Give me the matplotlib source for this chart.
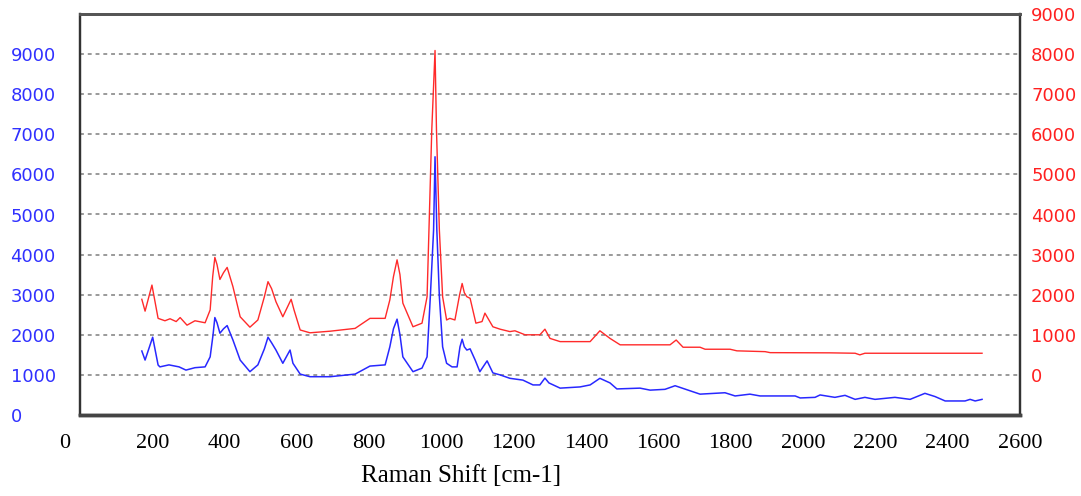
import matplotlib
matplotlib.use("Agg")
from matplotlib import pyplot as plt
from matplotlib import transforms

# Raman spectra
# blue trace, left axis
blue_x = [171, 180, 201, 216, 221, 246, 274, 293, 318, 346, 360, 368, 373, 379, 387,
          397, 407, 423, 443, 470, 492, 510, 520, 530, 542, 561, 581, 589, 609, 636,
          692, 761, 802, 844, 857, 867, 877, 885, 893, 921, 946, 960, 969, 978, 982,
          987, 994, 1003, 1014, 1029, 1043, 1051, 1057, 1063, 1070, 1079, 1093, 1106,
          1126, 1142, 1162, 1189, 1225, 1253, 1272, 1286, 1297, 1328, 1383, 1411,
          1438, 1466, 1485, 1549, 1577, 1618, 1646, 1687, 1715, 1784, 1812, 1853,
          1881, 1978, 1992, 2033, 2047, 2088, 2116, 2144, 2171, 2199, 2254, 2296,
          2337, 2365, 2393, 2448, 2462, 2476, 2495]
blue_y = [1596, 1370, 1940, 1247, 1200, 1250, 1200, 1120, 1180, 1200, 1450, 2000,
          2430, 2300, 2040, 2150, 2230, 1870, 1370, 1080, 1250, 1650, 1940, 1800,
          1620, 1290, 1620, 1290, 1020, 955, 955, 1020, 1220, 1250, 1700, 2150,
          2390, 2000, 1450, 1080, 1170, 1450, 2950, 4610, 6440, 4610, 2950, 1700,
          1290, 1200, 1200, 1700, 1890, 1700, 1620, 1650, 1370, 1080, 1350, 1050,
          1000, 915, 870, 750, 750, 920, 800, 670, 700, 750, 915, 800, 650, 670,
          620, 640, 730, 605, 520, 555, 475, 520, 475, 475, 425, 440, 500, 440, 490,
          390, 440, 390, 440, 390, 540, 460, 350, 350, 390, 350, 390]

# red trace, right axis
red_x = [171, 180, 199, 216, 235, 249, 266, 277, 296, 318, 346, 360, 367, 373, 379,
         387, 397, 407, 423, 443, 470, 492, 510, 520, 530, 542, 561, 584, 592, 609,
         636, 692, 761, 802, 844, 857, 867, 877, 885, 893, 921, 946, 960, 973, 982,
         986, 994, 1003, 1014, 1023, 1037, 1050, 1057, 1063, 1070, 1079, 1095, 1112,
         1120, 1142, 1162, 1189, 1203, 1231, 1272, 1286, 1300, 1328, 1411, 1438,
         1466, 1494, 1632, 1649, 1668, 1715, 1729, 1798, 1817, 1895, 1909, 2075,
         2144, 2157, 2171, 2495]
red_y = [1885, 1590, 2240, 1410, 1350, 1400, 1330, 1430, 1240, 1350, 1300, 1620,
         2450, 2930, 2750, 2380, 2550, 2680, 2200, 1450, 1190, 1370, 1950, 2325,
         2150, 1825, 1450, 1885, 1620, 1120, 1050, 1090, 1160, 1410, 1410, 1870,
         2450, 2870, 2500, 1790, 1200, 1290, 1950, 6110, 8090, 6110, 3610, 1950,
         1370, 1410, 1370, 2000, 2280, 2050, 1950, 1910, 1290, 1330, 1540, 1200,
         1140, 1080, 1100, 1000, 1000, 1140, 910, 830, 830, 1100, 910, 750, 750,
         870, 690, 690, 640, 640, 600, 580, 555, 550, 540, 500, 540, 540]

left_ticks = [0, 1000, 2000, 3000, 4000, 5000, 6000, 7000, 8000, 9000]
right_ticks = [0, 1000, 2000, 3000, 4000, 5000, 6000, 7000, 8000, 9000]
x_ticks = list(range(0, 2601, 200))

fig = plt.figure(figsize=(10.81, 4.96), dpi=100)
ax = fig.add_axes([80 / 1081, 81 / 496, 940 / 1081, 401 / 496])
ax2 = ax.twinx()

ax.plot(blue_x, blue_y, color="#2828ff", lw=1.1)
ax2.plot(red_x, red_y, color="#ff2a2a", lw=1.0)

ax.set_xlim(0, 2600)
ax.set_ylim(0, 10000)
ax2.set_ylim(-1000, 9000)

ax.set_xticks(x_ticks)
ax.set_xticklabels([str(t) for t in x_ticks], family="Liberation Serif", fontsize=16)
ax.set_yticks(left_ticks)
ax.set_yticklabels([str(t) for t in left_ticks], family="DejaVu Sans", fontsize=13,
                   color="#3030ff", ha="left")
ax2.set_yticks(right_ticks)
ax2.set_yticklabels([str(t) for t in right_ticks], family="DejaVu Sans", fontsize=13,
                    color="#ff2020")

ax.tick_params(axis="x", length=0, pad=14)
ax.tick_params(axis="y", length=0, pad=50)
ax2.tick_params(axis="y", length=0, pad=8)

# the "0" on the x axis sits a little left of the frame in the original
zero_lbl = ax.get_xticklabels()[0]
zero_lbl.set_transform(zero_lbl.get_transform()
                       + transforms.ScaledTranslation(-0.15, 0, fig.dpi_scale_trans))

ax.grid(axis="y", color="#9a9a9a", linestyle=(0, (2, 2)), lw=1.4)
ax.set_axisbelow(True)

for a in (ax, ax2):
    a.spines["left"].set_linewidth(1.6)
    a.spines["right"].set_linewidth(1.6)
    a.spines["left"].set_color("#333333")
    a.spines["right"].set_color("#333333")
    a.spines["top"].set_linestyle((0, (1, 1)))
    a.spines["bottom"].set_linestyle((0, (1, 1)))
    a.spines["top"].set_linewidth(2)
    a.spines["bottom"].set_linewidth(2.5)
    a.spines["top"].set_color("#555555")
    a.spines["bottom"].set_color("#444444")

ax.set_xlabel("Raman Shift [cm-1]", family="Liberation Serif", fontsize=18)
ax.xaxis.set_label_coords(0.405, -0.125)

plt.savefig("out.png", dpi=100)
